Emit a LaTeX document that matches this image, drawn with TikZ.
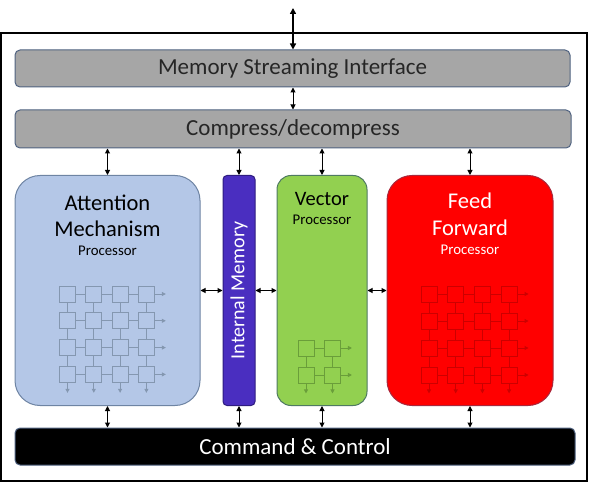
\documentclass[tikz,border=0pt]{standalone}
\usepackage{fontspec}
\setmainfont{Carlito}
\usetikzlibrary{arrows.meta}

\definecolor{bargray}{HTML}{A6A6A6}
\definecolor{barline}{HTML}{4F6280}
\definecolor{attfill}{HTML}{B4C7E7}
\definecolor{attline}{HTML}{6E84A3}
\definecolor{attgrid}{HTML}{8497B0}
\definecolor{memfill}{HTML}{4A2EC0}
\definecolor{memline}{HTML}{2E1C80}
\definecolor{vecfill}{HTML}{92D050}
\definecolor{vecline}{HTML}{4F7A62}
\definecolor{vecgrid}{HTML}{6A9E3A}
\definecolor{fffill}{HTML}{FF0000}
\definecolor{ffline}{HTML}{A8283C}
\definecolor{ffgrid}{HTML}{CC0000}
\definecolor{bartext}{HTML}{262626}

\begin{document}
\begin{tikzpicture}[x=1pt,y=-1pt,
  bar/.style={draw=barline, line width=1pt, rounded corners=5pt, inner sep=0pt,
    font=\fontsize{23}{28}\selectfont},
  unit/.style={line width=1pt, inner sep=0pt, minimum height=230pt},
  title/.style={anchor=base, inner sep=0pt, font=\fontsize{22.5}{27}\selectfont},
  subtitle/.style={anchor=base, inner sep=0pt, font=\fontsize{14.8}{18}\selectfont},
  cell/.style={draw, line width=0.9pt, minimum size=16pt, inner sep=0pt},
  link/.style={{Triangle[length=5pt,width=5pt]}-{Triangle[length=5pt,width=5pt]}, line width=1pt},
  flow/.style={-{Triangle[length=4pt,width=4pt]}, line width=0.9pt}]
\useasboundingbox (0,0) rectangle (590,484);

% outer frame
\draw[line width=1.3pt] (1,33) rectangle (587,481);

% bars
\node[bar, fill=bargray, text=bartext, minimum width=555pt, minimum height=37pt] (msi) at (292.5,68.5) {Memory Streaming Interface};
\node[bar, fill=bargray, text=bartext, minimum width=556pt, minimum height=38pt] (comp) at (293,129) {Compress/decompress};
\node[bar, fill=black, text=white, minimum width=560pt, minimum height=37pt] (cmd) at (295,446.5) {Command \& Control};

% processing units
\node[unit, draw=attline, fill=attfill, rounded corners=25pt, minimum width=185pt] (att) at (107.5,290.5) {};
\node[unit, draw=memline, fill=memfill, rounded corners=4pt, minimum width=32pt] (imem) at (239,290.5) {};
\node[unit, draw=vecline, fill=vecfill, rounded corners=14pt, minimum width=90pt] (vec) at (322,290.5) {};
\node[unit, draw=ffline, fill=fffill, rounded corners=25pt, minimum width=166pt] (ff) at (470,290.5) {};

% labels
\node[title] (att-t1) at (107.5,211) {Attention};
\node[title] (att-t2) at (107.5,237) {Mechanism};
\node[subtitle] (att-t3) at (107.5,256) {Processor};
\node[rotate=90, white, inner sep=0pt, font=\fontsize{20}{24}\selectfont] (imem-t) at (imem) {Internal Memory};
\node[title, font=\fontsize{20.5}{24}\selectfont] (vec-t1) at (322,206) {Vector};
\node[subtitle] (vec-t2) at (322,225) {Processor};
\node[title, white] (ff-t1) at (470,209) {Feed};
\node[title, white] (ff-t2) at (470,236) {Forward};
\node[subtitle, white] (ff-t3) at (470,255) {Processor};

% attention array
\foreach \i in {0,...,3}
  \foreach \j in {0,...,3}
    \node[cell, draw=attgrid] (a\i\j) at (67.5+26.3*\i,294+26.8*\j) {};
\begin{scope}[draw=attgrid, line width=0.9pt]
\foreach \i/\k in {0/1,1/2,2/3}
  \foreach \j in {0,...,3} {
    \draw (a\i\j) -- (a\k\j);
    \draw (a\j\i) -- (a\j\k);
  }
\foreach \j in {0,...,3} {
  \draw[flow, attgrid] (a3\j.east) -- ++(11,0);
  \draw[flow, attgrid] (a\j3.south) -- ++(0,10);
}
\end{scope}

% feed forward array
\foreach \i in {0,...,3}
  \foreach \j in {0,...,3}
    \node[cell, draw=ffgrid] (f\i\j) at (429+26.7*\i,294+27*\j) {};
\begin{scope}[draw=ffgrid, line width=0.9pt]
\foreach \i/\k in {0/1,1/2,2/3}
  \foreach \j in {0,...,3} {
    \draw (f\i\j) -- (f\k\j);
    \draw (f\j\i) -- (f\j\k);
  }
\foreach \j in {0,...,3} {
  \draw[flow, ffgrid] (f3\j.east) -- ++(11,0);
  \draw[flow, ffgrid] (f\j3.south) -- ++(0,10);
}
\end{scope}

% vector array
\foreach \i in {0,1}
  \foreach \j in {0,1}
    \node[cell, draw=vecgrid] (v\i\j) at (306+26.5*\i,348+27*\j) {};
\begin{scope}[draw=vecgrid, line width=0.9pt]
\foreach \j in {0,1} {
  \draw (v0\j) -- (v1\j);
  \draw (v\j0) -- (v\j1);
  \draw[flow, vecgrid] (v1\j.east) -- ++(11,0);
  \draw[flow, vecgrid] (v\j1.south) -- ++(0,10);
}
\end{scope}

% connections
\coordinate (ext) at (293,8);
\draw[{Triangle[length=6pt,width=6pt]}-{Triangle[length=6pt,width=6pt]}, line width=1.8pt] (ext) -- (msi.north -| ext);
\draw[link] (msi.south -| ext) -- (comp.north -| ext);
\foreach \u in {att,imem,vec,ff} {
  \draw[link] (comp.south -| \u.north) -- (\u.north);
  \draw[link] (\u.south) -- (cmd.north -| \u.south);
}
\draw[link] (att.east) -- (imem.west);
\draw[link] (imem.east) -- (vec.west);
\draw[link] (vec.east) -- (ff.west);
\end{tikzpicture}
\end{document}
